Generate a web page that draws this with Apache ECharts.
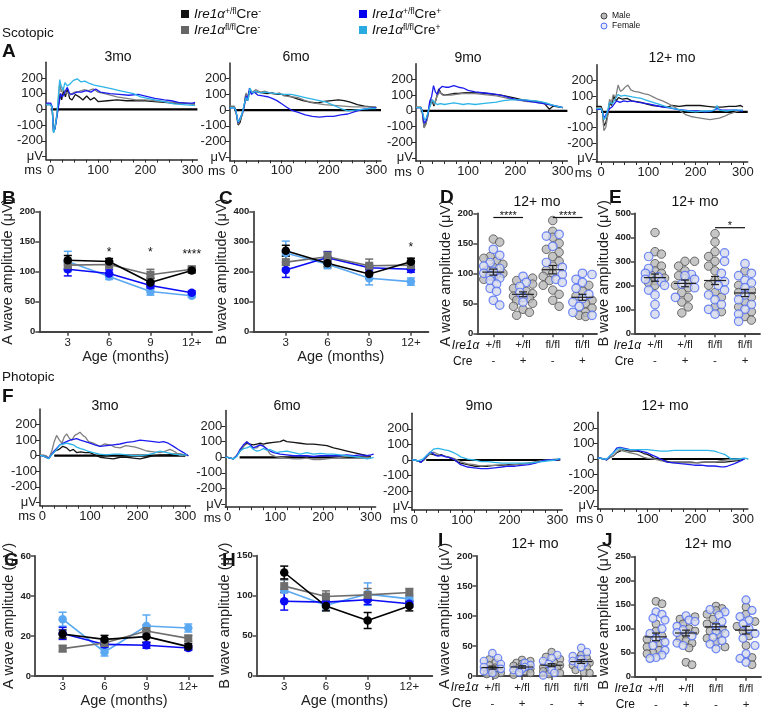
<!DOCTYPE html>
<html><head><meta charset="utf-8">
<script src="https://cdn.jsdelivr.net/npm/echarts@6/dist/echarts.min.js"></script>
<style>html,body{margin:0;padding:0;background:#fff}#c{width:764px;height:711px}</style>
</head><body><div id="c"></div>
<script>
// ================= DATA =================
// ERG traces [time ms, amplitude μV]; order per panel: +/fl Cre-, fl/fl Cre-, +/fl Cre+, fl/fl Cre+
const sc3K=[[-10,30],[0,30],[3,10],[6,-140],[9,-120],[13,-40],[17,40],[20,100],[23,60],[27,120],[31,80],[35,130],[40,70],[45,60],[52,95],[60,80],[68,60],[76,85],[84,60],[92,75],[100,50],[120,55],[140,60],[160,55],[180,55],[200,55],[220,50],[240,45],[260,40],[280,40],[300,35],[305,35]];
const sc3G=[[-10,35],[0,35],[3,10],[6,-145],[9,-110],[13,-30],[16,60],[19,170],[22,110],[26,140],[30,100],[35,110],[40,90],[50,110],[60,115],[70,125],[80,120],[90,130],[100,110],[120,95],[140,80],[160,70],[180,60],[200,60],[220,55],[240,50],[260,45],[280,40],[300,35],[305,30]];
const sc3B=[[-10,40],[0,40],[3,15],[6,-140],[9,-125],[13,-50],[17,30],[21,100],[25,80],[30,110],[35,140],[40,100],[45,95],[55,110],[65,110],[75,120],[85,110],[95,130],[105,110],[125,100],[145,95],[165,90],[185,95],[200,85],[220,70],[240,60],[255,55],[270,45],[285,40],[300,40],[305,45]];
const sc3C=[[-10,30],[0,30],[3,10],[6,-150],[9,-120],[13,-40],[16,80],[19,190],[22,150],[26,120],[30,170],[35,150],[40,160],[48,185],[56,195],[64,175],[72,180],[82,165],[92,155],[100,150],[115,140],[130,130],[145,120],[160,110],[175,100],[190,80],[205,70],[220,60],[240,50],[260,35],[280,30],[300,25],[305,25]];
const sc6K=[[-10,20],[0,20],[3,0],[8,-95],[12,-80],[17,-20],[21,30],[24,100],[27,60],[31,120],[36,110],[42,120],[50,115],[60,110],[70,105],[80,110],[90,100],[100,100],[115,90],[130,75],[145,60],[160,50],[175,45],[190,55],[205,60],[220,65],[232,60],[245,50],[260,35],[275,25],[290,20],[300,15]];
const sc6G=[[-10,25],[0,25],[3,0],[8,-90],[12,-85],[17,-30],[21,20],[25,110],[29,70],[33,120],[38,110],[45,130],[55,115],[65,120],[75,110],[85,100],[95,110],[105,90],[120,85],[135,80],[150,60],[170,45],[190,35],[210,30],[230,25],[250,20],[270,20],[290,20],[300,20]];
const sc6B=[[-10,15],[0,15],[3,0],[8,-80],[12,-70],[17,-20],[21,30],[25,90],[28,60],[32,140],[36,100],[42,115],[50,95],[60,90],[70,85],[80,75],[90,60],[100,40],[110,20],[120,0],[135,-15],[150,-30],[165,-40],[180,-45],[195,-40],[210,-40],[225,-30],[240,-25],[255,-10],[270,5],[285,10],[300,15]];
const sc6C=[[-10,15],[0,15],[3,0],[8,-75],[12,-60],[17,-15],[21,40],[25,80],[29,60],[33,140],[38,110],[45,120],[55,110],[65,115],[75,110],[90,105],[105,100],[120,100],[135,90],[150,80],[165,70],[180,60],[195,50],[210,30],[225,10],[240,-5],[255,0],[270,5],[285,10],[300,10]];
const sc9K=[[-10,20],[0,20],[3,0],[7,-105],[11,-80],[15,-30],[19,40],[23,70],[28,30],[33,80],[38,140],[43,110],[50,100],[60,105],[70,110],[80,110],[95,115],[110,115],[125,115],[140,110],[155,105],[170,100],[185,90],[200,80],[215,70],[230,65],[245,60],[260,50],[272,10],[280,30],[290,25],[300,20]];
const sc9G=[[-10,25],[0,25],[3,0],[7,-110],[11,-85],[15,-35],[19,30],[24,70],[29,40],[34,90],[40,120],[46,100],[55,100],[65,100],[75,105],[85,110],[100,110],[115,110],[130,105],[145,100],[160,95],[175,85],[190,75],[205,70],[220,60],[240,55],[260,45],[280,35],[295,25],[300,20]];
const sc9B=[[-10,20],[0,20],[3,0],[7,-80],[11,-65],[15,-20],[19,60],[23,90],[27,160],[31,120],[35,105],[40,140],[45,155],[52,150],[60,150],[70,160],[80,150],[90,145],[100,130],[115,120],[130,115],[145,110],[160,105],[175,95],[190,80],[205,70],[220,65],[240,55],[260,45],[280,35],[300,20]];
const sc9C=[[-10,20],[0,20],[3,0],[8,-60],[12,-45],[16,0],[20,30],[25,70],[30,50],[35,40],[42,45],[50,40],[60,45],[70,50],[80,45],[90,40],[100,45],[115,40],[130,45],[145,50],[160,55],[175,65],[190,70],[205,70],[220,70],[235,65],[250,60],[265,50],[280,35],[300,20]];
const sc12K=[[-10,35],[0,35],[3,10],[6,-90],[10,-70],[14,-20],[18,60],[22,40],[27,100],[32,70],[37,90],[45,80],[55,85],[65,70],[75,65],[85,60],[95,50],[110,40],[125,35],[140,30],[150,40],[165,35],[180,40],[195,40],[210,40],[225,35],[240,30],[255,30],[270,35],[285,35],[295,40],[300,30]];
const sc12G=[[-10,25],[0,25],[3,0],[6,-120],[10,-100],[14,-30],[18,80],[22,60],[26,110],[31,90],[36,170],[41,130],[46,140],[52,160],[57,170],[63,140],[70,130],[80,125],[90,115],[100,110],[110,95],[120,80],[130,70],[140,55],[150,40],[160,20],[170,0],[180,-20],[190,-30],[200,-35],[210,-40],[220,-45],[230,-50],[240,-45],[250,-40],[260,-30],[270,-15],[280,-5],[290,5],[300,10]];
const sc12B=[[-10,15],[0,15],[3,0],[6,-40],[10,-30],[14,0],[18,20],[23,30],[28,50],[33,70],[40,60],[48,70],[56,65],[64,70],[72,65],[80,60],[90,55],[100,50],[115,40],[130,30],[145,25],[160,15],[175,10],[190,5],[205,5],[220,0],[235,5],[245,20],[255,10],[270,10],[285,10],[300,5]];
const sc12C=[[-10,20],[0,20],[3,0],[6,-50],[10,-35],[14,10],[18,60],[24,50],[30,80],[36,110],[42,100],[50,105],[58,100],[66,95],[75,90],[85,85],[95,75],[105,65],[115,55],[125,45],[140,30],[155,20],[170,10],[185,5],[200,0],[215,5],[230,5],[240,10],[245,40],[250,10],[265,5],[280,10],[300,10]];
const ph3K=[[-5,0],[0,0],[8,-10],[14,-15],[20,10],[27,30],[35,40],[43,60],[51,50],[58,30],[65,40],[72,20],[80,25],[90,20],[100,20],[110,5],[121,-10],[135,-15],[149,-20],[163,-10],[177,-10],[191,-15],[205,-20],[219,-10],[233,0],[247,5],[261,5],[275,10],[289,10],[300,5],[306,0]];
const ph3G=[[-5,5],[0,5],[8,0],[14,-15],[20,30],[25,90],[30,130],[36,100],[41,80],[46,120],[51,140],[57,110],[62,100],[68,130],[74,140],[79,150],[85,130],[90,120],[97,90],[107,80],[114,70],[121,60],[130,75],[142,70],[152,55],[163,50],[175,65],[185,60],[195,55],[205,45],[219,30],[233,25],[247,20],[258,30],[268,40],[278,25],[289,0],[300,5],[306,0]];
const ph3B=[[-5,0],[0,0],[8,-10],[14,-15],[20,10],[25,30],[31,50],[37,70],[44,80],[51,90],[58,100],[65,105],[72,110],[80,100],[90,90],[100,80],[110,70],[121,60],[135,65],[149,70],[163,75],[177,85],[191,90],[205,100],[219,95],[233,90],[245,85],[254,90],[264,80],[275,60],[285,40],[296,20],[306,0]];
const ph3C=[[-5,0],[0,0],[8,-10],[13,-20],[18,0],[24,20],[30,40],[37,70],[44,75],[51,80],[58,75],[65,70],[72,55],[80,45],[86,40],[95,30],[107,20],[120,10],[135,5],[150,10],[163,10],[177,5],[191,0],[205,0],[219,5],[233,15],[247,30],[261,20],[275,10],[289,5],[303,5]];
const ph6K=[[-5,0],[0,0],[6,-5],[12,-10],[19,10],[26,40],[33,70],[40,90],[47,85],[54,80],[61,85],[68,90],[75,85],[82,90],[96,95],[110,100],[117,110],[124,100],[138,95],[152,90],[166,85],[180,85],[194,80],[208,75],[222,60],[236,50],[250,40],[264,30],[278,20],[292,10],[300,5]];
const ph6G=[[-5,0],[0,0],[6,-5],[12,-10],[19,10],[26,50],[33,70],[40,100],[47,80],[54,60],[61,60],[68,80],[75,75],[82,50],[89,20],[100,5],[110,0],[124,-5],[138,-10],[152,-10],[166,-5],[180,-15],[194,-15],[208,-10],[222,-5],[236,0],[250,5],[264,5],[278,0],[292,0],[300,0]];
const ph6B=[[-5,0],[0,0],[6,-5],[12,-10],[19,10],[26,50],[33,80],[40,100],[47,80],[54,60],[61,70],[68,80],[75,70],[82,55],[89,40],[96,30],[110,20],[124,15],[138,10],[152,10],[166,10],[180,5],[194,10],[208,10],[222,10],[236,10],[250,15],[264,10],[278,15],[292,10],[300,15],[306,20]];
const ph6C=[[-5,0],[0,0],[6,-5],[12,-10],[19,5],[26,40],[33,55],[40,60],[47,70],[54,50],[61,40],[68,45],[75,55],[82,45],[89,50],[96,40],[103,30],[110,35],[124,40],[138,30],[152,20],[159,25],[166,30],[180,20],[194,25],[208,20],[222,20],[236,15],[250,10],[264,5],[278,0],[292,-10],[300,-5],[306,0]];
const ph9K=[[-5,0],[0,0],[8,-5],[14,-15],[20,0],[26,20],[33,40],[40,35],[48,30],[56,35],[63,25],[70,20],[80,5],[90,-10],[97,-20],[112,-30],[126,-40],[140,-40],[154,-40],[168,-35],[183,-35],[197,-30],[211,-30],[225,-25],[240,-20],[254,-15],[268,0],[282,0],[296,0],[306,0]];
const ph9G=[[-5,0],[0,0],[8,-5],[14,-15],[20,0],[28,30],[35,40],[40,50],[48,40],[55,30],[62,25],[70,20],[83,10],[97,-10],[112,-25],[126,-30],[140,-40],[154,-35],[168,-35],[183,-30],[197,-35],[211,-30],[225,-25],[240,-20],[254,-10],[268,-5],[282,0],[296,5],[303,5]];
const ph9B=[[-5,0],[0,0],[8,-5],[14,-15],[20,5],[27,30],[33,50],[38,45],[44,30],[50,25],[58,30],[66,20],[75,15],[85,0],[97,-30],[112,-45],[126,-50],[140,-55],[154,-55],[168,-50],[183,-45],[197,-40],[211,-40],[225,-35],[240,-30],[254,-20],[268,-5],[282,0],[296,0],[306,5]];
const ph9C=[[-5,0],[0,0],[8,-5],[12,-15],[18,5],[26,30],[33,45],[40,70],[44,80],[50,75],[57,70],[64,65],[72,60],[80,50],[90,35],[97,20],[112,5],[126,0],[140,-10],[154,-10],[168,-15],[183,-20],[197,-20],[211,-20],[225,-20],[240,-20],[254,-15],[268,-10],[282,-5],[296,0],[306,10]];
const ph12K=[[-5,5],[0,5],[8,0],[14,-5],[21,10],[28,20],[35,40],[42,50],[49,60],[56,55],[63,50],[71,50],[78,50],[85,45],[92,35],[99,30],[106,20],[113,5],[120,0],[134,-10],[148,-20],[162,-20],[176,-20],[190,-20],[205,-25],[219,-20],[233,-20],[247,-20],[261,-20],[275,-15],[289,-10],[303,0]];
const ph12G=[[-5,5],[0,5],[8,0],[14,-5],[21,10],[28,20],[35,45],[42,60],[49,50],[56,45],[63,40],[71,35],[78,30],[85,20],[92,10],[99,5],[113,0],[127,-10],[141,-20],[155,-25],[169,-25],[184,-25],[198,-25],[212,-20],[226,-20],[240,-20],[254,-10],[268,-5],[282,-5],[296,0],[303,5]];
const ph12B=[[-5,5],[0,5],[8,0],[14,-5],[21,20],[28,40],[35,70],[42,75],[49,70],[56,65],[63,60],[71,60],[78,55],[85,50],[92,45],[99,40],[106,30],[113,20],[120,10],[127,0],[134,-10],[141,-20],[155,-25],[169,-30],[184,-35],[198,-40],[212,-40],[226,-45],[240,-45],[254,-50],[261,-50],[268,-45],[282,-30],[296,-10],[303,0]];
const ph12C=[[-5,5],[0,5],[8,0],[14,0],[21,20],[28,40],[35,60],[42,70],[49,65],[56,60],[63,60],[71,60],[85,60],[99,60],[113,55],[127,50],[141,50],[155,55],[169,55],[184,55],[198,55],[212,55],[226,55],[240,50],[250,40],[261,30],[268,15],[275,0],[289,0],[303,5],[311,0]];
const traceBaselineScot=[0,310];
const traceBaselinePhot=[25,300];
const traceXLabels=[0,100,200,300];
const traceXTicks=[0,25,50,75,100,125,150,175,200,225,250,275,300];
const traceYLabels=[-300,-200,-100,0,100,200];

// Age plots (mean, SEM) order: +/fl Cre-, fl/fl Cre-, +/fl Cre+, fl/fl Cre+
const ageLabels=['3','6','9','12+'];
const bMean=[[119,117,82,102],[111,112,95,104],[104,97,77,65],[117,92,67,60]];
const bSem =[[8,5,7,4],[8,6,9,5],[11,6,5,3],[17,5,6,3]];
const cMean=[[270,228,192,233],[232,250,220,222],[206,247,213,208],[262,225,178,167]];
const cSem =[[18,12,15,12],[20,15,22,12],[25,20,12,10],[40,15,22,12]];
const gMean=[[21,18.3,19.7,14.7],[13.7,16.5,22.5,18.8],[21.3,15.8,15.4,14],[28.4,12,25,24]];
const gSem =[[2,2,3,1.5],[1.5,1.5,3,1.5],[3,1.5,1.5,1.2],[3.5,2,5.5,2]];
const hMean=[[129,87,69,87],[112,99,101,104],[93,92,95,90],[107,88,102,96]];
const hSem =[[8,6,10,6],[8,7,8,5],[11,6,6,4],[13,6,14,5]];
const bStars=[[1,132,'*'],[2,131,'*'],[3,129,'****']];
const cStars=[[3,280,'*']];

// 12+ mo individual animals (male / female), groups: +/fl Cre-, +/fl Cre+, fl/fl Cre-, fl/fl Cre+
const genoLabels=['+/fl','+/fl','fl/fl','fl/fl'];
const creLabels=['-','+','-','+'];
const dMale=[[157,152,128,125,120,115,110,105,100,98,95,90],[92,88,82,75,70,66,62,58,55,50,45,40,35,30],[188,170,160,150,140,135,128,120,112,105,100,95,88,80,72,65,55,45],[80,70,62,55,50,42,35,30,28]];
const dFemale=[[140,130,118,112,108,103,100,96,92,88,82,75,70,55,47],[95,85,78,68,60,52],[165,162,145,118,110,98,90,85],[100,98,90,85,75,65,58,52,45,35,30]];
const dMean=[102,65,106,60], dSem=[5,4,7,5];
const dSig=[[0,1,193,'****'],[2,3,193,'****']];
const eMale=[[420,340,330,290,280,260,250,240,230,220,210,200],[300,300,280,260,240,220,200,190,170,150,130,110,85],[415,380,340,320,300,280,260,220,200,170,150,110,90],[260,200,180,170,150,130,110,90,70,55]];
const eFemale=[[320,270,250,235,225,215,200,180,160,120,80],[245,240,225,205,190,150],[335,300,250,215,200,180,160,140,120,100,80],[290,250,240,220,210,190,160,140,120,100,80,50]];
const eMean=[232,208,220,168], eSem=[15,14,17,15];
const eSig=[[2,3,440,'*']];
const iMale=[[28,22,18,14,10,7,5,3,2],[27,25,22,20,17,14,12,8,5,2],[40,32,28,22,18,15,12,10,8,5,3],[35,30,28,22,18,15,10,6,5]];
const iFemale=[[38,30,25,20,15,12,8,5],[22,18,15,12,10,6],[35,30,25,20,15,10,5,1],[47,40,33,28,25,22,20,15]];
const iMean=[14,15,18,24], iSem=[2.5,2,2.5,3];
const jMale=[[157,152,110,95,85,78,70,62,55,50,48],[125,120,110,100,95,88,80,75,70,60,30,25],[147,142,138,130,120,110,100,95,88,80,72,62],[145,130,115,105,95,85,65,40,25]];
const jFemale=[[135,130,122,118,100,90,80,72,65,55,45,40,38],[127,118,115,105,98,92,85,70,65],[140,135,128,115,105,95,90,82,75,68,58],[160,138,125,118,110,100,90,80,65,48,38,30]];
const jMean=[83,91,104,97], jSem=[8,6,6,8];

// ================= STYLE / LAYOUT =================
const FONT="'Liberation Sans', Arial, sans-serif";
const traceCol=['#141414','#808080','#1c1cf0','#2db4e8'];
const lineCol=['#000000','#6e6e6e','#0b0bf5','#5aa8f2'];
const lineSym=['circle','rect','circle','circle'];
const maleStyle={color:'#b8b8b8',borderColor:'#4d4d4d',borderWidth:1};
const femaleStyle={color:'#d5d8ea',borderColor:'#4e6cf5',borderWidth:1.2};

const grids=[],xAxes=[],yAxes=[],series=[],graphics=[];
function txt(t,x,y,size,align,extra){
  graphics.push({type:'text',x:x,y:y,silent:true,style:Object.assign({text:t,fontSize:size,fontFamily:FONT,fill:'#111',textAlign:align||'left',textVerticalAlign:'middle'},extra||{})});
}
function addGrid(L){grids.push({left:L.left,top:L.top,width:L.w,height:L.h,containLabel:false,outerBoundsMode:'none'});return grids.length-1;}
const axC='#2a2a2a';

function tracePanel(tr,L,base){
  const gi=addGrid(L);
  xAxes.push({gridIndex:gi,type:'value',min:L.xmin,max:310,
    axisLine:{show:true,onZero:false,lineStyle:{color:axC,width:1.5}},
    axisTick:{show:true,customValues:traceXTicks,length:3,lineStyle:{color:axC,width:1}},
    axisLabel:{show:true,customValues:traceXLabels,fontSize:13,color:'#222',margin:4,fontFamily:FONT},
    splitLine:{show:false}});
  yAxes.push({gridIndex:gi,type:'value',min:-320,max:300,
    axisLine:{show:true,onZero:false,lineStyle:{color:axC,width:1.5}},
    axisTick:{show:true,customValues:traceYLabels,length:4,lineStyle:{color:axC,width:1}},
    axisLabel:{show:true,customValues:traceYLabels,formatter:v=>(+v===-300?'μV':String(v)),fontSize:13,color:'#222',margin:3,fontFamily:FONT},
    splitLine:{show:false}});
  series.push({type:'line',xAxisIndex:gi,yAxisIndex:gi,data:[[base[0],0],[base[1],0]],symbol:'none',lineStyle:{color:'#000',width:2.2},z:1,silent:true});
  tr.forEach((d,k)=>series.push({type:'line',xAxisIndex:gi,yAxisIndex:gi,data:d,symbol:'none',lineStyle:{color:traceCol[k],width:1.3},z:2+k,silent:true}));
  txt(L.title,L.tx,L.ty,14,'center');
  txt('ms',L.left-13,L.top+L.h+11,13,'center');
}

function errRender(color,capW,lw){
  return function(params,api){
    const x=api.value(0),m=api.value(1),e=api.value(2);
    const a=api.coord([x,m+e]),b=api.coord([x,m-e]);
    const st={stroke:color,lineWidth:lw};
    return {type:'group',children:[
      {type:'line',shape:{x1:a[0],y1:a[1],x2:b[0],y2:b[1]},style:st},
      {type:'line',shape:{x1:a[0]-capW/2,y1:a[1],x2:a[0]+capW/2,y2:a[1]},style:st},
      {type:'line',shape:{x1:b[0]-capW/2,y1:b[1],x2:b[0]+capW/2,y2:b[1]},style:st}]};
  };
}
function starSeries(gi,arr,size){
  series.push({type:'custom',coordinateSystem:'cartesian2d',xAxisIndex:gi,yAxisIndex:gi,silent:true,z:10,
    data:arr.map(s=>[s[0],s[1]]),
    renderItem:function(params,api){const p=api.coord([api.value(0),api.value(1)]);
      return {type:'text',x:p[0],y:p[1],style:{text:arr[params.dataIndex][2],fontSize:size,fontFamily:FONT,fill:'#111',textAlign:'center',textVerticalAlign:'middle'}};}});
}

function linePanel(L,means,sems,stars){
  const gi=addGrid(L);
  xAxes.push({gridIndex:gi,type:'value',min:L.xmin,max:L.xmax,
    axisLine:{show:true,onZero:false,lineStyle:{color:'#444',width:1.8}},
    axisTick:{show:true,customValues:[0,1,2,3],length:4,lineStyle:{color:'#444',width:1.5}},
    axisLabel:{show:true,customValues:[0,1,2,3],formatter:v=>ageLabels[Math.round(v)],fontSize:11.5,color:'#222',margin:5,fontFamily:FONT},
    name:'Age (months)',nameLocation:'middle',nameGap:16,nameTextStyle:{fontSize:14.5,color:'#222',fontFamily:FONT},
    splitLine:{show:false}});
  yAxes.push({gridIndex:gi,type:'value',min:0,max:L.ymax,interval:L.yint,
    axisLine:{show:true,onZero:false,lineStyle:{color:'#444',width:1.8}},
    axisTick:{show:true,length:4,lineStyle:{color:'#444',width:1.5}},
    axisLabel:{fontSize:9.5,fontWeight:'bold',color:'#222',margin:4,fontFamily:FONT},
    name:L.yname,nameLocation:'middle',nameGap:L.ng,nameRotate:90,nameTextStyle:{fontSize:14.5,color:'#222',fontFamily:FONT},
    splitLine:{show:false}});
  [3,2,1,0].forEach(k=>{
    const pts=means[k].map((v,i)=>[i,v]);
    series.push({type:'custom',coordinateSystem:'cartesian2d',xAxisIndex:gi,yAxisIndex:gi,silent:true,z:3,
      data:means[k].map((v,i)=>[i,v,sems[k][i]]),renderItem:errRender(lineCol[k],8,1.5)});
    series.push({type:'line',xAxisIndex:gi,yAxisIndex:gi,data:pts,symbol:lineSym[k],symbolSize:lineSym[k]==='rect'?8:8.5,
      lineStyle:{color:lineCol[k],width:1.6},itemStyle:{color:lineCol[k]},z:4,silent:true});
  });
  if(stars) starSeries(gi,stars,12);
  txt(L.letter,L.lx,L.ly,19,'left',{fontWeight:'bold'});
}

// deterministic beeswarm layout (pixel collision avoidance)
function swarm(males,females,pxX,pxY,r){
  const outM=[],outF=[];
  const step=r*0.75;
  for(let g=0;g<4;g++){
    const pts=males[g].map(v=>({v:v,s:0})).concat(females[g].map(v=>({v:v,s:1})));
    pts.sort((a,b)=>b.v-a.v);
    const placed=[];
    pts.forEach(p=>{
      const y=p.v*pxY;let best=0,bestD=-1;
      for(let k=0;k<7;k++){
        const c=k===0?0:(k%2?1:-1)*Math.ceil(k/2)*step;
        let dmin=1e9;placed.forEach(q=>{dmin=Math.min(dmin,Math.hypot(q.x-c,q.y-y));});
        if(dmin>=2*r*0.8){best=c;bestD=1e9;break;}
        if(dmin>bestD+0.5){bestD=dmin;best=c;}
      }
      placed.push({x:best,y:y});
      (p.s?outF:outM).push([g+best/pxX,p.v]);
    });
  }
  return [outM,outF];
}

function scatterPanel(L,males,females,mean,sem,sig){
  const gi=addGrid(L);
  const pxX=L.w/(L.xmax-L.xmin),pxY=L.h/L.ymax;
  xAxes.push({gridIndex:gi,type:'value',min:L.xmin,max:L.xmax,
    axisLine:{show:true,onZero:false,lineStyle:{color:'#444',width:1.8}},
    axisTick:{show:true,customValues:[0,1,2,3],length:4,lineStyle:{color:'#444',width:1.5}},
    axisLabel:{show:true,customValues:[0,1,2,3],formatter:v=>genoLabels[Math.round(v)]+'\n'+creLabels[Math.round(v)],fontSize:11.5,lineHeight:16,color:'#222',margin:4,fontFamily:FONT},
    splitLine:{show:false}});
  yAxes.push({gridIndex:gi,type:'value',min:0,max:L.ymax,interval:L.yint,
    axisLine:{show:true,onZero:false,lineStyle:{color:'#444',width:1.8}},
    axisTick:{show:true,length:4,lineStyle:{color:'#444',width:1.5}},
    axisLabel:{fontSize:9.5,fontWeight:'bold',color:'#222',margin:4,fontFamily:FONT},
    name:L.yname,nameLocation:'middle',nameGap:L.ng,nameRotate:90,nameTextStyle:{fontSize:14.5,color:'#222',fontFamily:FONT},
    splitLine:{show:false}});
  const sw=swarm(males,females,pxX,pxY,L.sym/2);
  series.push({type:'scatter',xAxisIndex:gi,yAxisIndex:gi,data:sw[0],symbol:'circle',symbolSize:L.sym,itemStyle:maleStyle,z:3,silent:true});
  series.push({type:'scatter',xAxisIndex:gi,yAxisIndex:gi,data:sw[1],symbol:'circle',symbolSize:L.sym,itemStyle:femaleStyle,z:4,silent:true});
  series.push({type:'custom',coordinateSystem:'cartesian2d',xAxisIndex:gi,yAxisIndex:gi,silent:true,z:6,
    data:mean.map((v,i)=>[i,v,sem[i]]),
    renderItem:function(params,api){
      const x=api.value(0),m=api.value(1),e=api.value(2);
      const c=api.coord([x,m]),a=api.coord([x,m+e]),b=api.coord([x,m-e]);
      const st={stroke:'#222',lineWidth:1.2};
      return {type:'group',children:[
        {type:'line',shape:{x1:c[0]-11,y1:c[1],x2:c[0]+11,y2:c[1]},style:st},
        {type:'line',shape:{x1:a[0],y1:a[1],x2:b[0],y2:b[1]},style:st},
        {type:'line',shape:{x1:a[0]-4,y1:a[1],x2:a[0]+4,y2:a[1]},style:st},
        {type:'line',shape:{x1:b[0]-4,y1:b[1],x2:b[0]+4,y2:b[1]},style:st}]};
    }});
  if(sig){
    series.push({type:'custom',coordinateSystem:'cartesian2d',xAxisIndex:gi,yAxisIndex:gi,silent:true,z:6,
      data:sig.map(s=>[s[0],s[1],s[2]]),
      renderItem:function(params,api){
        const a=api.coord([api.value(0),api.value(2)]),b=api.coord([api.value(1),api.value(2)]);
        return {type:'group',children:[
          {type:'line',shape:{x1:a[0],y1:a[1],x2:b[0],y2:b[1]},style:{stroke:'#111',lineWidth:1.2}},
          {type:'text',x:(a[0]+b[0])/2,y:a[1]+4,style:{text:sig[params.dataIndex][3],fontSize:11,fontFamily:FONT,fill:'#111',textAlign:'center',textVerticalAlign:'bottom'}}]};
      }});
  }
  const x0=L.left+(0-L.xmin)*pxX, yA=L.top+L.h;
  txt('Ire1α',x0-14,yA+12,12,'right',{fontStyle:'italic'});
  txt('Cre',x0-21,yA+28,12,'right');
  txt(L.title,L.tx,L.ty,14,'center');
  txt(L.letter,L.lx,L.ly,19,'left',{fontWeight:'bold'});
}

// ---- Scotopic traces
const scotL=[
  {left:46,top:62.3,w:151.4,h:97.3,xmin:-10,title:'3mo',tx:118,ty:57},
  {left:229.6,top:63,w:151.4,h:97.3,xmin:-10,title:'6mo',tx:296,ty:57},
  {left:416,top:63.7,w:151.4,h:97.3,xmin:-10,title:'9mo',tx:468,ty:58},
  {left:596.3,top:64.7,w:151.4,h:97.3,xmin:-10,title:'12+ mo',tx:672,ty:58}];
tracePanel([sc3K,sc3G,sc3B,sc3C],scotL[0],traceBaselineScot);
tracePanel([sc6K,sc6G,sc6B,sc6C],scotL[1],traceBaselineScot);
tracePanel([sc9K,sc9G,sc9B,sc9C],scotL[2],traceBaselineScot);
tracePanel([sc12K,sc12G,sc12B,sc12C],scotL[3],traceBaselineScot);
// ---- Photopic traces
const photL=[
  {left:39.9,top:408.9,w:150.3,h:96.7,xmin:-5,title:'3mo',tx:105,ty:406},
  {left:225.3,top:410.5,w:150.3,h:96.7,xmin:-5,title:'6mo',tx:287,ty:406},
  {left:411.9,top:413.2,w:150.3,h:96.7,xmin:-5,title:'9mo',tx:479,ty:406},
  {left:597.6,top:412.2,w:150.3,h:96.7,xmin:-5,title:'12+ mo',tx:665,ty:406}];
tracePanel([ph3K,ph3G,ph3B,ph3C],photL[0],traceBaselinePhot);
tracePanel([ph6K,ph6G,ph6B,ph6C],photL[1],traceBaselinePhot);
tracePanel([ph9K,ph9G,ph9B,ph9C],photL[2],traceBaselinePhot);
tracePanel([ph12K,ph12G,ph12B,ph12C],photL[3],traceBaselinePhot);

// ---- Age line plots
linePanel({left:39.3,top:211.7,w:172.7,h:120,xmin:-0.69,xmax:3.49,ymax:200,yint:50,yname:'A wave amplitude (μV)',ng:21,letter:'B',lx:2,ly:199},bMean,bSem,bStars);
linePanel({left:253.3,top:211.7,w:175.1,h:120,xmin:-0.78,xmax:3.42,ymax:400,yint:100,yname:'B wave amplitude (μV)',ng:16,letter:'C',lx:219,ly:199},cMean,cSem,cStars);
linePanel({left:35,top:556,w:178,h:120,xmin:-0.66,xmax:3.59,ymax:60,yint:20,yname:'A wave amplitude (μV)',ng:17,letter:'G',lx:4,ly:561},gMean,gSem,null);
linePanel({left:256.7,top:555.7,w:175.6,h:120,xmin:-0.66,xmax:3.55,ymax:150,yint:50,yname:'B wave amplitude (μV)',ng:21,letter:'H',lx:222,ly:561},hMean,hSem,null);

// ---- 12+ mo scatter plots
scatterPanel({left:477.3,top:213.3,w:119.7,h:120,xmin:-0.54,xmax:3.49,ymax:200,yint:50,yname:'A wave amplitude (μV)',ng:20,sym:8.5,title:'12+ mo',tx:537,ty:202,letter:'D',lx:440,ly:198},dMale,dFemale,dMean,dSem,dSig);
scatterPanel({left:635,top:213.3,w:125,h:120,xmin:-0.667,xmax:3.5,ymax:500,yint:100,yname:'B wave amplitude (μV)',ng:18,sym:8.5,title:'12+ mo',tx:695,ty:202,letter:'E',lx:609,ly:198},eMale,eFemale,eMean,eSem,eSig);
scatterPanel({left:476.7,top:556,w:119.3,h:120,xmin:-0.53,xmax:3.5,ymax:200,yint:50,yname:'A wave amplitude (μV)',ng:21,sym:7.5,title:'12+ mo',tx:535,ty:544,letter:'I',lx:438,ly:541},iMale,iFemale,iMean,iSem,null);
scatterPanel({left:635,top:556.7,w:126,h:120,xmin:-0.7,xmax:3.5,ymax:250,yint:50,yname:'B wave amplitude (μV)',ng:18,sym:8,title:'12+ mo',tx:708,ty:544,letter:'J',lx:602,ly:541},jMale,jFemale,jMean,jSem,null);

// ---- headers / legend
txt('Scotopic',2,33,13.5,'left');
txt('A',2,52,19,'left',{fontWeight:'bold'});
txt('Photopic',2,377,13.5,'left');
txt('F',2,397,19,'left',{fontWeight:'bold'});
const legSq=[['#111111',185,14,'+/fl','-'],['#666666',185,30,'fl/fl','-'],['#0000ee',363,14,'+/fl','+'],['#29abe2',363,30,'fl/fl','+']];
legSq.forEach(l=>{
  graphics.push({type:'rect',shape:{x:l[1]-4,y:l[2]-4,width:8,height:8},style:{fill:l[0]},silent:true});
  graphics.push({type:'text',x:l[1]+9,y:l[2],silent:true,style:{text:'{i|Ire1α}{s|'+l[3]+'}{n|Cre}{s|'+l[4]+'}',textVerticalAlign:'middle',
    rich:{i:{fontSize:13.5,fontStyle:'italic',fontFamily:FONT,fill:'#111'},n:{fontSize:13.5,fontFamily:FONT,fill:'#111'},s:{fontSize:8.5,fontFamily:FONT,fill:'#111',verticalAlign:'top'}}}});
});
graphics.push({type:'circle',shape:{cx:604,cy:16,r:3},style:{fill:'#bbb',stroke:'#444',lineWidth:1},silent:true});
graphics.push({type:'circle',shape:{cx:604,cy:26,r:3},style:{fill:'#e6e8f5',stroke:'#4e6cf5',lineWidth:1},silent:true});
txt('Male',612,16,8.5,'left');
txt('Female',612,26,8.5,'left');

const chart=echarts.init(document.getElementById('c'),null,{renderer:'canvas'});
chart.setOption({animation:false,backgroundColor:'#fff',grid:grids,xAxis:xAxes,yAxis:yAxes,series:series,graphic:{elements:graphics}});
</script></body></html>
